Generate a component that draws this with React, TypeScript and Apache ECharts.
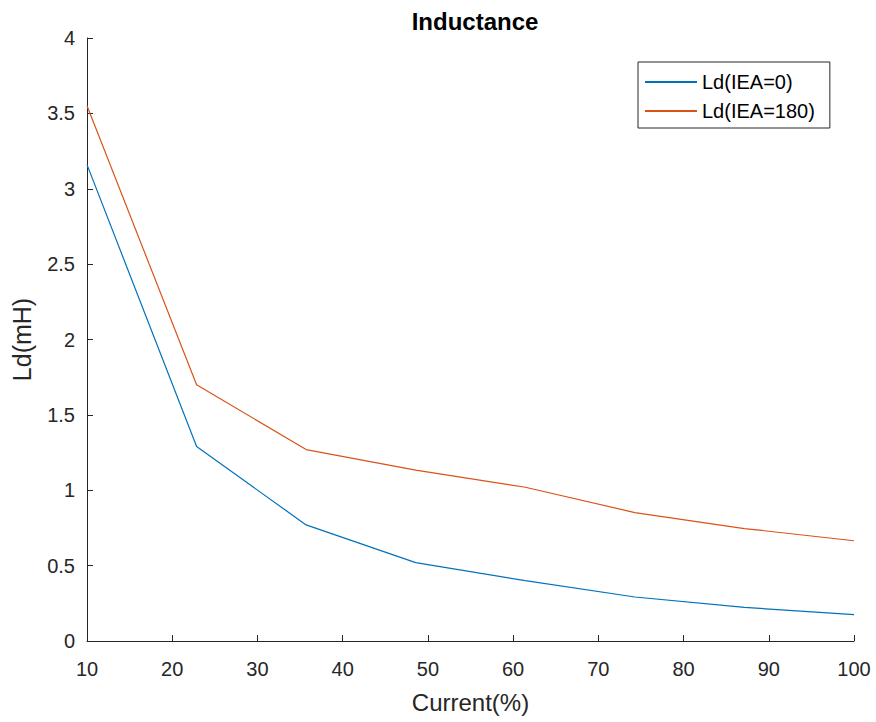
import React, { useEffect, useRef } from "react";
import * as echarts from "echarts";

const currentPct = [10, 22.86, 35.71, 48.57, 61.43, 74.29, 87.14, 100];
const ldIea0 = [3.16, 1.29, 0.77, 0.52, 0.40, 0.292, 0.223, 0.175];
const ldIea180 = [3.55, 1.70, 1.27, 1.133, 1.02, 0.852, 0.746, 0.665];
const seriesNames = ["Ld(IEA=0)", "Ld(IEA=180)"];

const FONT = "'Liberation Sans', Arial, Helvetica, sans-serif";
const TXT = "#262626";

export default function App() {
  const ref = useRef<HTMLDivElement>(null);
  useEffect(() => {
    if (!ref.current) return;
    const chart = echarts.init(ref.current, undefined, { renderer: "svg" });
    const toPairs = (ys: number[]) => currentPct.map((x, i) => [x, ys[i]]);
    chart.setOption({
      animation: false,
      backgroundColor: "#ffffff",
      textStyle: { fontFamily: FONT },
      title: {
        text: "Inductance",
        left: 470,
        top: 4,
        textAlign: "center",
        textStyle: { fontFamily: FONT, fontSize: 24, fontWeight: "bold", color: "#000" },
      },
      grid: { left: 87, right: 22, top: 38, bottom: 81, containLabel: false },
      legend: {
        orient: "vertical",
        left: 638,
        top: 62,
        padding: [10, 15, 7, 7],
        itemGap: 9,
        itemWidth: 52,
        itemHeight: 2,
        icon: "rect",
        borderColor: TXT,
        borderWidth: 1,
        backgroundColor: "#fff",
        textStyle: { fontFamily: FONT, fontSize: 20, color: "#000", padding: [0, 0, 0, 0] },
        data: seriesNames,
      },
      xAxis: {
        type: "value",
        min: 10,
        max: 100,
        interval: 10,
        name: "Current(%)",
        nameLocation: "middle",
        nameGap: 49,
        nameTextStyle: { fontFamily: FONT, fontSize: 24, color: TXT },
        axisLine: { show: true, onZero: false, lineStyle: { color: TXT, width: 1 } },
        axisTick: { show: true, inside: true, length: 6, lineStyle: { color: TXT } },
        axisLabel: { fontFamily: FONT, fontSize: 20, color: TXT, margin: 18 },
        splitLine: { show: false },
      },
      yAxis: {
        type: "value",
        min: 0,
        max: 4,
        interval: 0.5,
        name: "Ld(mH)",
        nameLocation: "middle",
        nameGap: 53,
        nameTextStyle: { fontFamily: FONT, fontSize: 25, color: TXT },
        axisLine: { show: true, onZero: false, lineStyle: { color: TXT, width: 1 } },
        axisTick: { show: true, inside: true, length: 6, lineStyle: { color: TXT } },
        axisLabel: { fontFamily: FONT, fontSize: 20, color: TXT, margin: 12 },
        splitLine: { show: false },
      },
      series: [
        {
          name: seriesNames[0],
          type: "line",
          data: toPairs(ldIea0),
          showSymbol: false,
          symbol: "none",
          lineStyle: { color: "#0072BD", width: 1.2 },
          itemStyle: { color: "#0072BD" },
        },
        {
          name: seriesNames[1],
          type: "line",
          data: toPairs(ldIea180),
          showSymbol: false,
          symbol: "none",
          lineStyle: { color: "#D95319", width: 1.2 },
          itemStyle: { color: "#D95319" },
        },
      ],
    });
    return () => chart.dispose();
  }, []);
  return (
    <div
      ref={ref}
      style={{ position: "fixed", left: 0, top: 0, width: 876, height: 722 }}
    />
  );
}
